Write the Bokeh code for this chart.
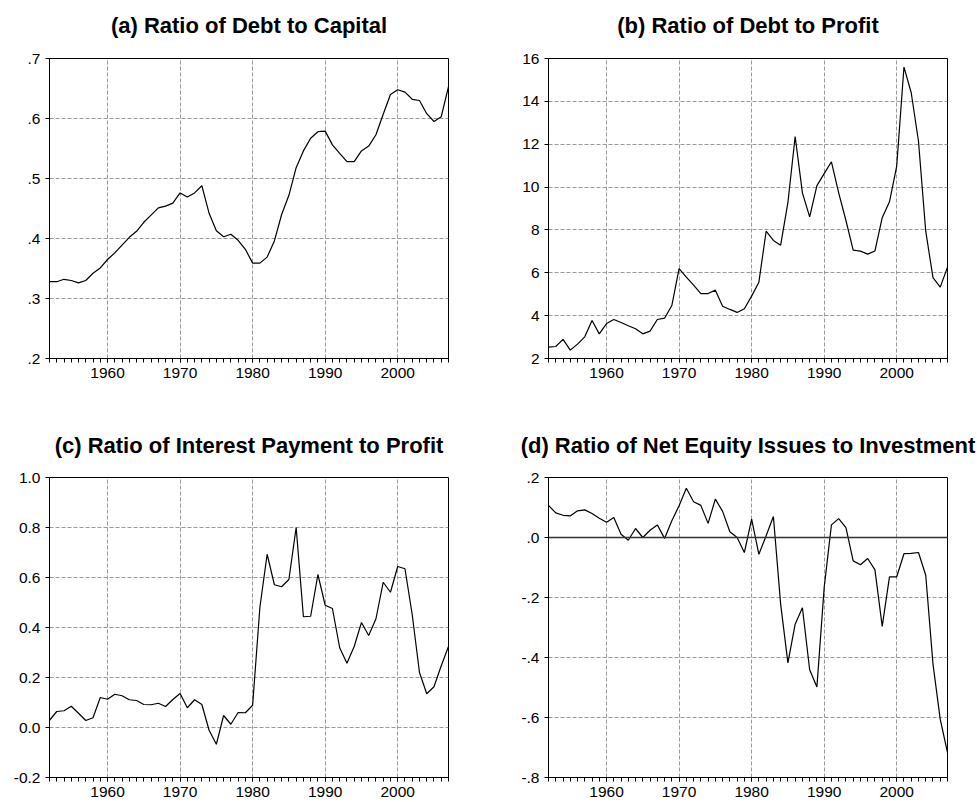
from bokeh.plotting import figure
from bokeh.layouts import column, row
from bokeh.models import FixedTicker, CustomJSTickFormatter, Range1d, Span, Title
from bokeh.embed import file_html
from bokeh.resources import INLINE

years = list(range(1952, 2008))

debt_capital = [0.328, 0.328, 0.332, 0.330, 0.326, 0.330, 0.342, 0.351, 0.365, 0.376,
                0.389, 0.402, 0.412, 0.427, 0.439, 0.451, 0.454, 0.459, 0.476, 0.469,
                0.476, 0.488, 0.442, 0.413, 0.403, 0.407, 0.397, 0.382, 0.359, 0.359,
                0.369, 0.396, 0.440, 0.472, 0.518, 0.546, 0.567, 0.578, 0.579, 0.556,
                0.542, 0.528, 0.528, 0.546, 0.554, 0.573, 0.607, 0.640, 0.648, 0.644,
                0.632, 0.630, 0.608, 0.595, 0.603, 0.653]

debt_profit = [2.53, 2.56, 2.89, 2.39, 2.67, 3.01, 3.77, 3.15, 3.63, 3.82,
               3.68, 3.53, 3.39, 3.15, 3.28, 3.82, 3.88, 4.47, 6.19, 5.80,
               5.42, 5.03, 5.03, 5.19, 4.44, 4.29, 4.15, 4.32, 4.91, 5.56,
               7.94, 7.51, 7.29, 9.27, 12.36, 9.73, 8.61, 10.07, 10.63, 11.18,
               9.73, 8.44, 7.06, 7.01, 6.87, 7.02, 8.57, 9.31, 10.98, 15.60,
               14.40, 12.14, 7.94, 5.77, 5.33, 6.26]

interest_profit = [0.029, 0.064, 0.067, 0.085, 0.057, 0.028, 0.039, 0.120, 0.113, 0.133,
                   0.127, 0.111, 0.108, 0.092, 0.091, 0.097, 0.084, 0.112, 0.136, 0.079,
                   0.111, 0.092, -0.011, -0.067, 0.048, 0.013, 0.060, 0.059, 0.089, 0.480,
                   0.693, 0.571, 0.563, 0.592, 0.800, 0.443, 0.445, 0.612, 0.489, 0.476,
                   0.319, 0.257, 0.324, 0.420, 0.368, 0.435, 0.581, 0.541, 0.644, 0.635,
                   0.451, 0.220, 0.135, 0.163, 0.247, 0.324]

equity_investment = [0.107, 0.082, 0.074, 0.072, 0.089, 0.092, 0.080, 0.064, 0.051, 0.067,
                     0.011, -0.009, 0.030, 0.000, 0.024, 0.042, -0.003, 0.056, 0.106, 0.164,
                     0.119, 0.107, 0.047, 0.128, 0.087, 0.019, 0.000, -0.050, 0.061, -0.056,
                     0.006, 0.070, -0.222, -0.418, -0.289, -0.234, -0.441, -0.498, -0.167, 0.042,
                     0.063, 0.033, -0.078, -0.091, -0.070, -0.108, -0.296, -0.131, -0.131, -0.054,
                     -0.053, -0.050, -0.126, -0.422, -0.606, -0.717]

titles = ["(a) Ratio of Debt to Capital",
          "(b) Ratio of Debt to Profit",
          "(c) Ratio of Interest Payment to Profit",
          "(d) Ratio of Net Equity Issues to Investment"]

decade_ticks = [1960, 1970, 1980, 1990, 2000]
ticks_a = [0.2, 0.3, 0.4, 0.5, 0.6, 0.7]
ticks_b = [2, 4, 6, 8, 10, 12, 14, 16]
ticks_c = [-0.2, 0.0, 0.2, 0.4, 0.6, 0.8, 1.0]
ticks_d = [-0.8, -0.6, -0.4, -0.2, 0.0, 0.2]

FMT_DOT = """
var s = tick.toFixed(1);
if (s == "-0.0") { s = "0.0"; }
return s.replace(/^(-?)0\\./, "$1.");
"""
FMT_ONE = """
var s = tick.toFixed(1);
if (s == "-0.0") { s = "0.0"; }
return s;
"""
FMT_INT = "return tick.toFixed(0);"

FONT = "Liberation Sans"


def make_panel(title, ys, yrange, yticks, fmt, width, height, bl, br, bt, bb,
               title_standoff, spacer=False, zero_line=False):
    p = figure(width=width, height=height, output_backend="svg", toolbar_location=None,
               x_range=Range1d(1952, 2007), y_range=Range1d(*yrange),
               min_border_left=bl, min_border_right=br, min_border_top=bt, min_border_bottom=bb)
    p.title.text = title
    p.title.align = "center"
    p.title.vertical_align = "bottom"
    p.title.text_font = FONT
    p.title.text_font_style = "bold"
    p.title.text_font_size = "22px"
    p.title.text_color = "#000000"
    p.title.standoff = title_standoff

    if spacer:
        # invisible blank line between title and frame
        p.add_layout(Title(text=" ", text_font=FONT, text_font_size="12px", standoff=0), "above")

    p.outline_line_color = "#000000"
    p.outline_line_width = 1
    p.outline_line_alpha = 1.0

    xa = p.xaxis[0]
    xa.ticker = FixedTicker(ticks=decade_ticks, minor_ticks=years)
    xa.major_tick_out = 4
    xa.major_tick_in = 0
    xa.minor_tick_out = 4
    xa.minor_tick_in = 0
    xa.major_label_standoff = 5
    xa.axis_line_color = "#000000"
    xa.major_tick_line_color = "#000000"
    xa.minor_tick_line_color = "#000000"
    xa.major_label_text_font = FONT
    xa.major_label_text_font_size = "15.5px"
    xa.major_label_text_color = "#000000"

    ya = p.yaxis[0]
    ya.ticker = FixedTicker(ticks=yticks, minor_ticks=[])
    ya.formatter = CustomJSTickFormatter(code=fmt)
    ya.major_tick_out = 4
    ya.major_tick_in = 0
    ya.minor_tick_line_color = None
    ya.major_label_standoff = 5
    ya.axis_line_color = "#000000"
    ya.major_tick_line_color = "#000000"
    ya.major_label_text_font = FONT
    ya.major_label_text_font_size = "15.5px"
    ya.major_label_text_color = "#000000"

    for g in (p.xgrid[0], p.ygrid[0]):
        g.grid_line_color = "#9a9a9a"
        g.grid_line_dash = "4 2"
        g.grid_line_width = 1
    p.xgrid[0].ticker = FixedTicker(ticks=decade_ticks)
    p.ygrid[0].ticker = FixedTicker(ticks=yticks)

    if zero_line:
        p.add_layout(Span(location=0, dimension="width", line_color="#333333", line_width=1.3))

    p.line(years, ys, line_color="#000000", line_width=1.2)
    return p


pa = make_panel(titles[0], debt_capital, (0.2, 0.7), ticks_a, FMT_DOT, 488, 388, 49, 40, 58, 30,
                10, spacer=True)
pb = make_panel(titles[1], debt_profit, (2, 16), ticks_b, FMT_INT, 489, 388, 60, 30, 58, 30,
                10, spacer=True)
pc = make_panel(titles[2], interest_profit, (-0.2, 1.0), ticks_c, FMT_ONE, 488, 419, 49, 40, 89, 30,
                40)
pd = make_panel(titles[3], equity_investment, (-0.8, 0.2), ticks_d, FMT_DOT, 489, 419, 60, 30, 89, 30,
                40, zero_line=True)

layout = column(row(pa, pb), row(pc, pd))

open("out.html", "w").write(file_html(layout, INLINE))
